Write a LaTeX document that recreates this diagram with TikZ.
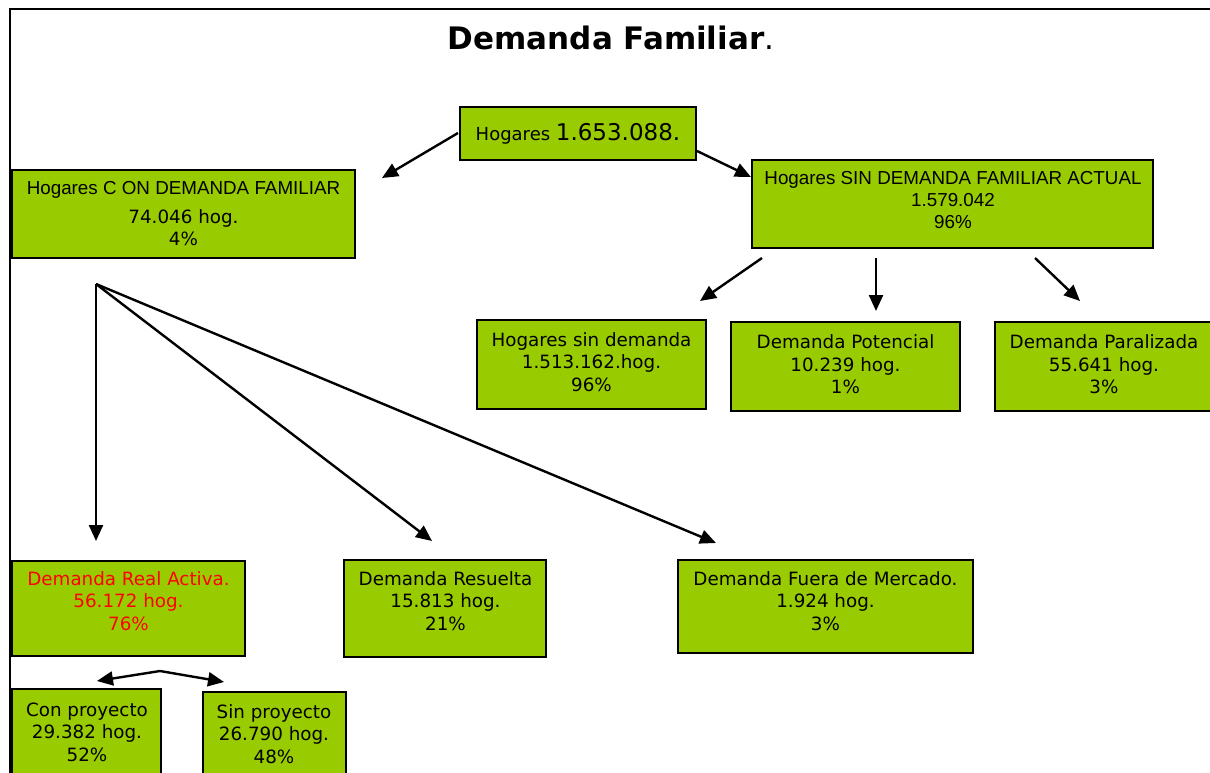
\documentclass[tikz,border=0pt]{standalone}
\usepackage{fontspec}
\setmainfont{DejaVu Sans}
\newfontfamily\arialf{Liberation Sans}
\usetikzlibrary{arrows.meta}
\definecolor{boxgreen}{HTML}{99CC00}
\definecolor{txtred}{HTML}{FF0000}
\begin{document}
\begin{tikzpicture}[x=1pt,y=-1pt,
  box/.style={draw=black, line width=2pt, fill=boxgreen, inner sep=0pt},
  txt/.style={align=center, inner sep=0pt, font=\fontsize{18.3}{22.5}\selectfont},
  atxt/.style={align=center, inner sep=0pt, font=\arialf\fontsize{18.8}{22}\selectfont},
  arr/.style={line width=2.4pt, -{Triangle[length=16pt,width=14pt]}},
  frame/.style={line width=2pt}
]
\useasboundingbox (0,0) rectangle (1210,773);
\clip (0,0) rectangle (1210,773);
\fill[white] (0,0) rectangle (1210,773);
% frame
\draw[frame] (10,790) -- (10,9) -- (1215,9);
% title
\node[inner sep=0pt] (title) at (611,38) {\fontsize{31}{36}\selectfont\bfseries Demanda Familiar\mdseries.};
% boxes
\node[box, minimum width=236pt, minimum height=53pt] (A) at (578,133.5) {\fontsize{18}{22}\selectfont Hogares \fontsize{23}{26}\selectfont 1.653.088.};
\node[box, minimum width=343pt, minimum height=88pt] (B) at (183.5,214) {};
\node[box, minimum width=401pt, minimum height=88pt] (C) at (952.5,204) {};
\node[box, minimum width=229pt, minimum height=89pt] (D) at (591.5,364.5) {};
\node[box, minimum width=229pt, minimum height=89pt] (E) at (845.5,366.5) {};
\node[box, minimum width=218pt, minimum height=89pt] (F) at (1104,366.5) {};
\node[box, minimum width=233pt, minimum height=95pt] (G) at (128.5,608.5) {};
\node[box, minimum width=202pt, minimum height=97pt] (H) at (445,608.5) {};
\node[box, minimum width=295pt, minimum height=93pt] (I) at (825.5,606.5) {};
\node[box, minimum width=149pt, minimum height=101pt] (J) at (86.5,739.5) {};
\node[box, minimum width=143pt, minimum height=98pt] (K) at (274.5,741) {};
% texts
\node[txt] (Bt) at (183.5,214) {{\arialf\fontsize{18.8}{22}\selectfont Hogares C ON DEMANDA FAMILIAR}\\[6pt] 74.046 hog.\\ 4\%};
\node[atxt] (Ct) at (953,200) {Hogares SIN DEMANDA FAMILIAR ACTUAL\\ 1.579.042\\ 96\%};
\node[txt] (Dt) at (591.5,362) {Hogares sin demanda\\ 1.513.162.hog.\\ 96\%};
\node[txt] (Et) at (845.5,364.5) {Demanda Potencial\\ 10.239 hog.\\ 1\%};
\node[txt] (Ft) at (1104,364.5) {Demanda Paralizada\\ 55.641 hog.\\ 3\%};
\node[txt, text=txtred] (Gt) at (128.5,601) {Demanda Real Activa.\\ 56.172 hog.\\ 76\%};
\node[txt] (Ht) at (445.5,601) {Demanda Resuelta\\ 15.813 hog.\\ 21\%};
\node[txt] (It) at (825.5,601) {Demanda Fuera de Mercado.\\ 1.924 hog.\\ 3\%};
\node[txt] (Jt) at (87,732) {Con proyecto\\ 29.382 hog.\\ 52\%};
\node[txt] (Kt) at (274,734) {Sin proyecto\\ 26.790 hog.\\ 48\%};
% connector end points
\coordinate (a1) at (458,133);
\coordinate (b1) at (382,178);
\coordinate (a2) at (697,151);
\coordinate (c1) at (751,177);
\coordinate (cD) at (762,258);
\coordinate (dD) at (700,301);
\coordinate (cE) at (876,258);
\coordinate (dE) at (876,311);
\coordinate (cF) at (1035,258);
\coordinate (dF) at (1080,301);
\coordinate (fan) at (96,284);
\coordinate (gG) at (96,541);
\coordinate (gH) at (432,541);
\coordinate (gI) at (716,543);
\coordinate (split) at (160,671);
\coordinate (sJ) at (97,681);
\coordinate (sK) at (224,682);
% connectors
\draw[arr] (a1) -- (b1);
\draw[arr] (a2) -- (c1);
\draw[arr] (cD) -- (dD);
\draw[arr] (cE) -- (dE);
\draw[arr] (cF) -- (dF);
\draw[arr] (fan) -- (gG);
\draw[arr] (fan) -- (gH);
\draw[arr] (fan) -- (gI);
\draw[arr] (split) -- (sJ);
\draw[arr] (split) -- (sK);
\end{tikzpicture}
\end{document}
